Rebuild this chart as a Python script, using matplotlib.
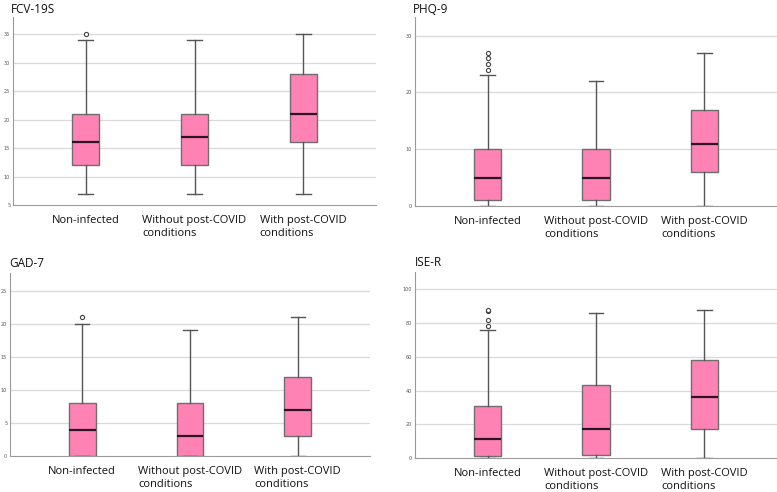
import matplotlib
matplotlib.use("Agg")
import matplotlib.pyplot as plt

groups = ["Non-infected", "Without post-COVID\nconditions", "With post-COVID\nconditions"]

# per panel: whislo, q1, med, q3, whishi, outliers
fcv_low = [7, 7, 7]
fcv_q1 = [12, 12, 16]
fcv_med = [16, 17, 21]
fcv_q3 = [21, 21, 28]
fcv_high = [34, 34, 35]
fcv_out = [[35], [], []]

phq_low = [0, 0, 0]
phq_q1 = [1, 1, 6]
phq_med = [5, 5, 11]
phq_q3 = [10, 10, 17]
phq_high = [23, 22, 27]
phq_out = [[24, 25, 26, 27], [], []]

gad_low = [0, 0, 0]
gad_q1 = [0, 0, 3]
gad_med = [4, 3, 7]
gad_q3 = [8, 8, 12]
gad_high = [20, 19, 21]
gad_out = [[21], [], []]

ise_low = [0, 0, 0]
ise_q1 = [1, 2, 17]
ise_med = [11, 17, 36]
ise_q3 = [31, 43, 58]
ise_high = [76, 86, 88]
ise_out = [[78, 82, 87, 88], [], []]

panels = [
    ("FCV-19S", fcv_low, fcv_q1, fcv_med, fcv_q3, fcv_high, fcv_out, (5, 38), [5, 10, 15, 20, 25, 30, 35],
     [13/777, 1-205/492, 363/777, 188/492], (11/777, 1-3/492)),
    ("PHQ-9", phq_low, phq_q1, phq_med, phq_q3, phq_high, phq_out, (0, 33.3), [0, 10, 20, 30],
     [415/777, 1-206/492, 362/777, 189/492], (413/777, 1-3/492)),
    ("GAD-7", gad_low, gad_q1, gad_med, gad_q3, gad_high, gad_out, (0, 27.7), [0, 5, 10, 15, 20, 25],
     [10/777, 1-456/492, 360/777, 183/492], (9/777, 1-257/492)),
    ("ISE-R", ise_low, ise_q1, ise_med, ise_q3, ise_high, ise_out, (0, 110.3), [0, 20, 40, 60, 80, 100],
     [415/777, 1-458/492, 362/777, 186/492], (415/777, 1-256/492)),
]

fig = plt.figure(figsize=(7.77, 4.92), dpi=100)
fig.patch.set_facecolor("white")

box_color = "#FF82B5"
edge = "#6e6e6e"

for title, lo, q1, med, q3, hi, out, ylim, ticks, rect, tpos in panels:
    ax = fig.add_axes(rect)
    stats = []
    for i in range(3):
        stats.append(dict(whislo=lo[i], q1=q1[i], med=med[i], q3=q3[i], whishi=hi[i], fliers=out[i]))
    ax.bxp(stats, positions=[1, 2, 3], widths=0.25, patch_artist=True, showfliers=True,
           boxprops=dict(facecolor=box_color, edgecolor=edge, linewidth=1.0),
           medianprops=dict(color="#2a1520", linewidth=1.6),
           whiskerprops=dict(color="#555555", linewidth=1.0),
           capprops=dict(color="#555555", linewidth=1.0),
           capwidths=0.135,
           flierprops=dict(marker="o", markersize=3, markerfacecolor="white",
                           markeredgecolor="#444444", markeredgewidth=0.8))
    ax.set_xlim(0.33, 3.67)
    ax.set_ylim(*ylim)
    ax.set_yticks(ticks)
    ax.set_yticklabels([str(t) for t in ticks], fontsize=3.5, color="#555555")
    for t in ticks:
        if t != ylim[0]:
            ax.axhline(t, color="#d9d9d9", linewidth=0.9, zorder=0)
    ax.tick_params(axis="y", length=0, pad=2)
    ax.tick_params(axis="x", length=0, pad=7)
    ax.set_xticks([1, 2, 3])
    ax.set_xticklabels(groups, fontsize=8, color="#111111", multialignment="left",
                       family="Open Sans", va="top", linespacing=1.25)
    for s in ["top", "right"]:
        ax.spines[s].set_visible(False)
    ax.spines["left"].set_color("#9a9a9a")
    ax.spines["bottom"].set_color("#9a9a9a")
    ax.spines["left"].set_linewidth(0.8)
    ax.spines["bottom"].set_linewidth(0.8)
    fig.text(tpos[0], tpos[1], title, fontsize=8.5, family="Open Sans", va="top", ha="left", color="#111111")

fig.savefig("out.png", dpi=100)
